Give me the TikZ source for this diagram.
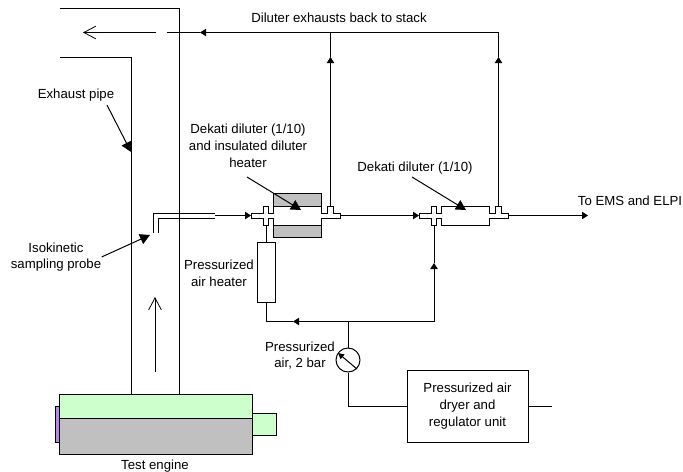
\documentclass[tikz,border=0pt]{standalone}
\usepackage{fontspec}
\setmainfont{Liberation Sans}
\usetikzlibrary{arrows.meta}
\definecolor{enginegreen}{HTML}{CCFFCC}
\definecolor{enginegray}{HTML}{C0C0C0}
\definecolor{enginepurple}{HTML}{B888E8}

\begin{document}
\begin{tikzpicture}[
    x=0.75pt, y=-0.75pt,
    line width=0.75pt,
    part/.style={draw, rectangle, inner sep=0pt, fill=white, align=center},
    label/.style={font=\fontsize{9.9}{12.6}\selectfont, align=center, inner sep=0pt},
    flow/.style={-{Triangle[length=4.5pt, width=5.5pt]}},
    leader/.style={-{Triangle[length=7.5pt, width=8pt]}},
    stream/.style={-{Straight Barb[length=9pt, width=9.5pt, line width=0.6pt]}}
]
\useasboundingbox (0,0) rectangle (683,472);

% --- exhaust pipe ---
\draw (60,8) -- (179,8) -- (179,394);
\draw (60,57) -- (131,57) -- (131,394);

% --- engine ---
\draw[fill=enginepurple] (55,406) rectangle (59,442);
\draw[fill=enginegreen] (252,413) rectangle (276,435);
\draw[fill=enginegreen] (59,394) rectangle (252,418);
\draw[fill=enginegray] (59,418) rectangle (252,454);

% --- diluter heater ---
\draw[fill=enginegray] (273,193) rectangle (321,206);
\draw[fill=enginegray] (273,225) rectangle (321,237);

% --- diluters ---
\foreach \dx/\name in {0/dila, 168/dilb} {
  \begin{scope}[xshift=\dx*0.75pt]
    \draw[fill=white] (251,213) -- (263,213) -- (263,206) -- (268,206) -- (268,213)
        -- (273,213) -- (273,206) -- (321,206) -- (321,213) -- (327,213) -- (327,206)
        -- (333,206) -- (333,213) -- (340,213) -- (340,218) -- (321,218) -- (321,225)
        -- (273,225) -- (273,218) -- (268,218) -- (268,225) -- (263,225) -- (263,218)
        -- (251,218) -- cycle;
    \coordinate (\name-in) at (251,215.5);
    \coordinate (\name-out) at (340,215.5);
    \coordinate (\name-air) at (266,225);
    \coordinate (\name-exh) at (330.5,206);
  \end{scope}
}

% --- parts ---
\node[part, minimum width=13.5pt, minimum height=45pt] (heater) at (266,272) {};
\node[part, circle, minimum size=18pt] (gauge) at (348,360) {};
\node[part, minimum width=90.75pt, minimum height=54pt, font=\fontsize{9.9}{12.6}\selectfont] (dryer) at (467.5,406)
    {Pressurized air\\dryer and\\regulator unit};

% --- points on the lines ---
\coordinate (probe-end) at (215,215.5);
\coordinate (ems) at (588,215.5);
\coordinate (stack-a) at (330.5,32.5);
\coordinate (stack-b) at (498.5,32.5);
\coordinate (stack-in) at (167,32.5);
\coordinate (stack-mark) at (200,32.5);
\coordinate (mark-a) at (330.5,57);
\coordinate (mark-b) at (498.5,57);
\coordinate (air-tee) at (348,321.5);
\coordinate (air-left) at (266,321.5);
\coordinate (air-right) at (434,321.5);
\coordinate (air-mark) at (293,321.5);
\coordinate (up-mark) at (434,263);
\coordinate (dryer-in) at (348,406);
\coordinate (dryer-out) at (552,406);
\coordinate (pipe-lead) at (107,105);
\coordinate (dila-lead) at (247,177);
\coordinate (dilb-lead) at (412,177);

% --- probe ---
\draw (153,233) -- (153,213) -- (215,213);
\draw (158,233) -- (158,218) -- (215,218);

% --- sample line ---
\draw[flow] (probe-end) -- (dila-in);
\draw[flow] (dila-out) -- (dilb-in);
\draw[flow] (dilb-out) -- (ems);

% --- exhaust lines ---
\draw[flow] (dila-exh) -- (mark-a);
\draw (mark-a) -- (stack-a);
\draw[flow] (dilb-exh) -- (mark-b);
\draw (mark-b) -- (stack-b);
\draw (stack-b) -- (stack-a);
\draw[flow] (stack-a) -- (stack-mark);
\draw (stack-mark) -- (stack-in);

% --- air lines ---
\draw (dila-air) -- (heater.north);
\draw (heater.south) -- (air-left);
\draw[flow] (air-tee) -- (air-mark);
\draw (air-mark) -- (air-left);
\draw (air-tee) -- (air-right);
\draw[flow] (air-right) -- (up-mark);
\draw (up-mark) -- (dilb-air);
\draw (air-tee) -- (gauge.north);
\draw (gauge.south) -- (dryer-in) -- (dryer.west);
\draw (dryer.east) -- (dryer-out);
\draw[-{Triangle[length=4.5pt, width=4.5pt]}] (357,369) -- (338,353);

% --- flow in the pipe ---
\draw[stream] (156,32.5) -- (83,32.5);
\draw[stream] (155,372) -- (155,297);

% --- labels ---
\node[label] (stacklabel) at (339,18) {Diluter exhausts back to stack};
\node[label] (pipelabel) at (76,95) {Exhaust pipe};
\node[label] (probelabel) at (56,257) {Isokinetic\\sampling probe};
\node[label] (dilalabel) at (248,146) {Dekati diluter (1/10)\\and insulated diluter\\heater};
\node[label] (dilblabel) at (415,168) {Dekati diluter (1/10)};
\node[label] (emslabel) at (630,200.5) {To EMS and ELPI};
\node[label] (heaterlabel) at (219,273) {Pressurized\\air heater};
\node[label] (gaugelabel) at (300,355.5) {Pressurized\\air, 2 bar};
\node[label] (enginelabel) at (155,466) {Test engine};

% --- leaders ---
\draw[leader] (pipe-lead) -- (131,152);
\draw[leader] (probelabel.east) -- (150,235);
\draw[leader] (dila-lead) -- (301,210);
\draw[leader] (dilb-lead) -- (466,210);

\end{tikzpicture}
\end{document}
